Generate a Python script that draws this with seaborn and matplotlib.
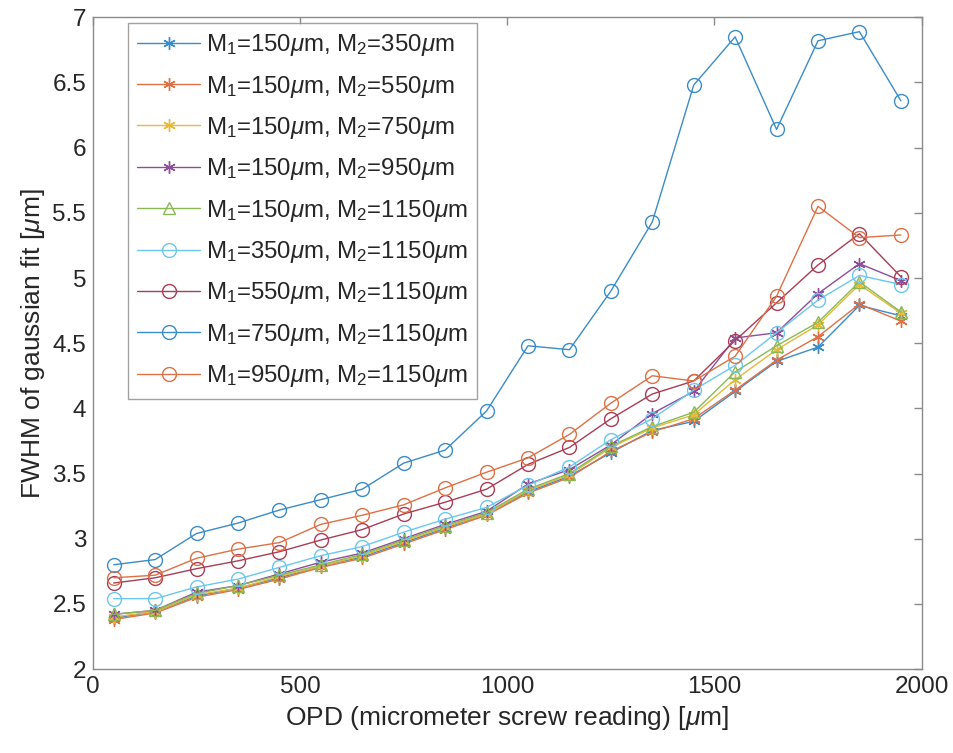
import matplotlib
matplotlib.use("Agg")
import matplotlib.pyplot as plt
import pandas as pd
import seaborn as sns

# OPD positions (micrometer screw reading)
opd = [50, 150, 250, 350, 450, 550, 650, 750, 850, 950,
       1050, 1150, 1250, 1350, 1450, 1550, 1650, 1750, 1850, 1950]

# FWHM values, one list per mask combination
m150_350 = [2.39, 2.44, 2.56, 2.62, 2.70, 2.79, 2.86, 2.97, 3.08, 3.19,
            3.36, 3.48, 3.66, 3.83, 3.90, 4.13, 4.36, 4.47, 4.79, 4.71]
m150_550 = [2.38, 2.43, 2.55, 2.61, 2.69, 2.78, 2.85, 2.96, 3.07, 3.18,
            3.35, 3.47, 3.67, 3.82, 3.92, 4.14, 4.37, 4.55, 4.80, 4.67]
m150_750 = [2.40, 2.44, 2.57, 2.62, 2.71, 2.79, 2.87, 2.98, 3.09, 3.19,
            3.37, 3.49, 3.70, 3.85, 3.95, 4.22, 4.45, 4.64, 4.95, 4.73]
m150_950 = [2.42, 2.45, 2.59, 2.64, 2.73, 2.82, 2.89, 3.00, 3.11, 3.21,
            3.42, 3.53, 3.72, 3.96, 4.13, 4.54, 4.58, 4.88, 5.11, 4.98]
m150_1150 = [2.42, 2.45, 2.58, 2.64, 2.72, 2.80, 2.88, 2.99, 3.10, 3.20,
             3.38, 3.50, 3.71, 3.86, 3.97, 4.28, 4.48, 4.66, 4.97, 4.74]
m350_1150 = [2.54, 2.54, 2.63, 2.69, 2.78, 2.87, 2.94, 3.05, 3.15, 3.24,
             3.41, 3.55, 3.76, 3.92, 4.14, 4.33, 4.58, 4.83, 5.02, 4.95]
m550_1150 = [2.66, 2.70, 2.77, 2.83, 2.90, 2.99, 3.07, 3.19, 3.28, 3.38,
             3.57, 3.70, 3.92, 4.11, 4.21, 4.52, 4.81, 5.10, 5.34, 5.01]
m750_1150 = [2.80, 2.84, 3.04, 3.12, 3.22, 3.30, 3.38, 3.58, 3.68, 3.98,
             4.48, 4.45, 4.90, 5.43, 6.48, 6.85, 6.14, 6.82, 6.89, 6.36]
m950_1150 = [2.70, 2.72, 2.85, 2.92, 2.97, 3.11, 3.18, 3.26, 3.39, 3.51,
             3.62, 3.80, 4.04, 4.25, 4.21, 4.40, 4.86, 5.55, 5.31, 5.33]

labels = [
    r"M$_1$=150$\mu$m, M$_2$=350$\mu$m",
    r"M$_1$=150$\mu$m, M$_2$=550$\mu$m",
    r"M$_1$=150$\mu$m, M$_2$=750$\mu$m",
    r"M$_1$=150$\mu$m, M$_2$=950$\mu$m",
    r"M$_1$=150$\mu$m, M$_2$=1150$\mu$m",
    r"M$_1$=350$\mu$m, M$_2$=1150$\mu$m",
    r"M$_1$=550$\mu$m, M$_2$=1150$\mu$m",
    r"M$_1$=750$\mu$m, M$_2$=1150$\mu$m",
    r"M$_1$=950$\mu$m, M$_2$=1150$\mu$m",
]
series = [m150_350, m150_550, m150_750, m150_950, m150_1150,
          m350_1150, m550_1150, m750_1150, m950_1150]

# matlab default line colours, lightened a bit like the scan
colors = ["#3a8cc8", "#de7046", "#e6b93a", "#8c4d9b", "#8bb853",
          "#6cc7ee", "#a83d55", "#3a8cc8", "#de7046"]
asterisk = (6, 2, 0)
markers = [asterisk, asterisk, asterisk, asterisk, "^", "o", "o", "o", "o"]

sns.set_style("white")
plt.rcParams["font.family"] = ["Liberation Sans", "DejaVu Sans"]
plt.rcParams["mathtext.fontset"] = "custom"
plt.rcParams["mathtext.rm"] = "Liberation Sans"
plt.rcParams["mathtext.it"] = "Liberation Sans:italic"

fig = plt.figure(figsize=(9.54, 7.53), dpi=100)
ax = fig.add_axes([0.0975, 0.1115, 0.8685, 0.8655])

for vals, lab, col, mk in zip(series, labels, colors, markers):
    df = pd.DataFrame({"opd": opd, "fwhm": vals})
    sns.lineplot(data=df, x="opd", y="fwhm", ax=ax, color=col, label=lab,
                 marker=mk, markersize=10 if mk == "o" else 9,
                 markerfacecolor="none", markeredgecolor=col,
                 markeredgewidth=1.0, linewidth=1.0)

ax.set_xlim(0, 2000)
ax.set_ylim(2, 7)
ax.set_xticks([0, 500, 1000, 1500, 2000])
ax.set_yticks([2, 2.5, 3, 3.5, 4, 4.5, 5, 5.5, 6, 6.5, 7])
ax.set_yticklabels(["2", "2.5", "3", "3.5", "4", "4.5", "5", "5.5", "6", "6.5", "7"])
ax.tick_params(direction="in", top=True, right=True, length=6, width=1,
               colors="#8a8a8a", labelcolor="#262626", labelsize=17.5, pad=5)
for sp in ax.spines.values():
    sp.set_color("#8a8a8a")
    sp.set_linewidth(1.0)

ax.set_xlabel(r"OPD (micrometer screw reading) [$\mu$m]", fontsize=19, color="#262626", labelpad=4)
ax.set_ylabel(r"FWHM of gaussian fit [$\mu$m]", fontsize=19, color="#262626", labelpad=4)

leg = ax.legend(loc="upper left", bbox_to_anchor=(0.042, 0.992), fontsize=17.3,
                frameon=True, fancybox=False, edgecolor="#8a8a8a",
                handlelength=2.6, labelspacing=0.64, borderpad=0.4,
                handletextpad=0.25, borderaxespad=0.0)
leg.get_frame().set_linewidth(1.0)

fig.savefig("out.png", dpi=100)
